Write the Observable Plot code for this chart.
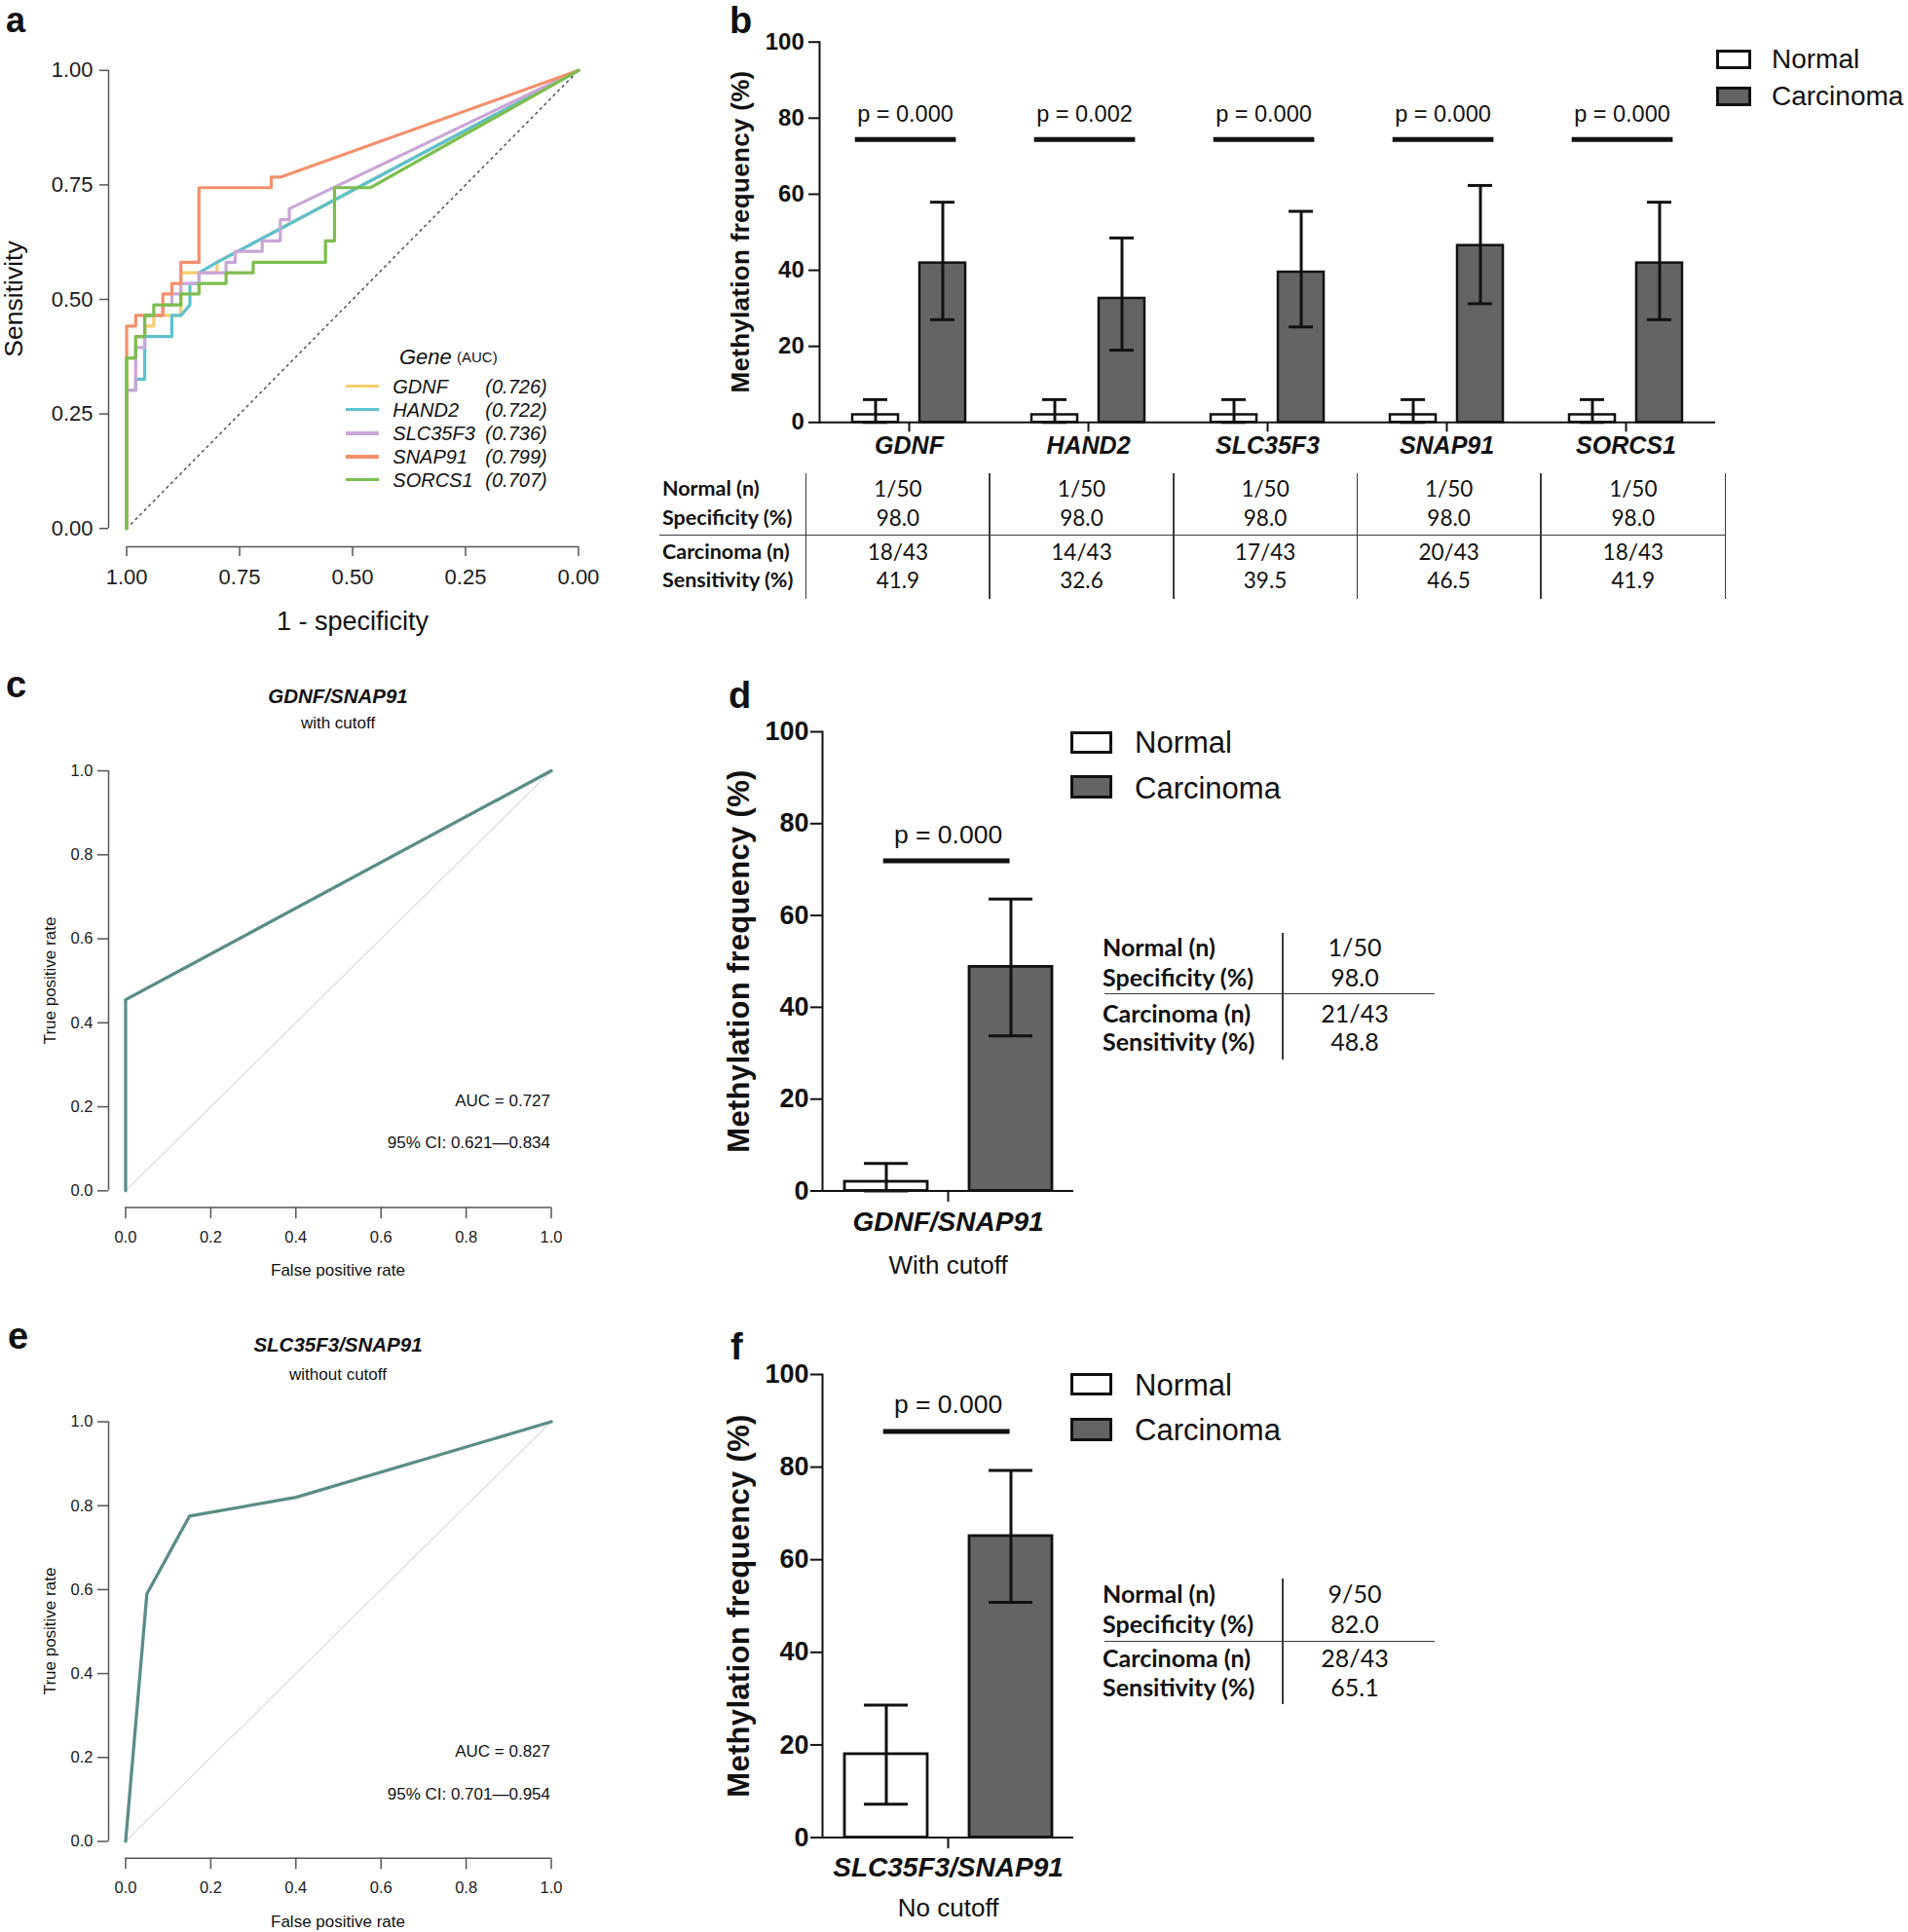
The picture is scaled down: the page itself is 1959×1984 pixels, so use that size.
<!DOCTYPE html>
<html><head><meta charset="utf-8">
<script src="https://cdn.jsdelivr.net/npm/d3@7"></script>
<script src="https://cdn.jsdelivr.net/npm/@observablehq/plot@0.6"></script>
<style>
body{margin:0;background:#fff;}
#root{position:relative;width:1959px;height:1984px;overflow:hidden;font-family:"Liberation Sans",Arial,sans-serif;color:#111;background:#fff;}
.abs{position:absolute;white-space:nowrap;line-height:1;}
.panel{position:absolute;}
</style></head><body><div id="root"></div>
<script>
// ---------------- DATA ----------------
// Panel a: single-gene ROC curves (specificity vs sensitivity)
const genes = ["GDNF","HAND2","SLC35F3","SNAP91","SORCS1"];
const geneColors = ["#F8CD6C","#5DC1CE","#C9A6D7","#F3906C","#7CBE4E"];
const geneAUC = ["(0.726)","(0.722)","(0.736)","(0.799)","(0.707)"];
const gdnfSpec = [1,1,0.98,0.98,0.96,0.96,0.94,0.94,0.88,0.88,0.80,0.80,0];
const gdnfSens = [0,0.372,0.372,0.419,0.419,0.442,0.442,0.465,0.465,0.558,0.558,0.581,1];
const hand2Spec = [1,1,0.98,0.98,0.96,0.96,0.90,0.90,0.88,0.86,0.86,0.84,0.84,0.80,0];
const hand2Sens = [0,0.302,0.302,0.326,0.326,0.419,0.419,0.465,0.465,0.488,0.535,0.535,0.558,0.581,1];
const slc35f3Spec = [1,1,0.98,0.98,0.96,0.96,0.92,0.92,0.90,0.90,0.88,0.88,0.84,0.84,0.78,0.78,0.76,0.76,0.70,0.70,0.66,0.66,0.64,0.64,0];
const slc35f3Sens = [0,0.302,0.302,0.395,0.395,0.465,0.465,0.488,0.488,0.512,0.512,0.535,0.535,0.558,0.558,0.581,0.581,0.605,0.605,0.628,0.628,0.674,0.674,0.698,1];
const snap91Spec = [1,1,0.98,0.98,0.92,0.92,0.90,0.90,0.88,0.88,0.84,0.84,0.68,0.68,0.66,0];
const snap91Sens = [0,0.442,0.442,0.465,0.465,0.512,0.512,0.535,0.535,0.581,0.581,0.744,0.744,0.767,0.767,1];
const sorcs1Spec = [1,1,0.98,0.98,0.96,0.96,0.94,0.94,0.88,0.88,0.84,0.84,0.78,0.78,0.72,0.72,0.56,0.56,0.54,0.54,0.46,0];
const sorcs1Sens = [0,0.372,0.372,0.419,0.419,0.465,0.465,0.488,0.488,0.512,0.512,0.535,0.535,0.558,0.558,0.581,0.581,0.628,0.628,0.744,0.744,1];
const chanceSpec = [1,0];
const chanceSens = [0,1];
const aTicks = [0,0.25,0.5,0.75,1];

// Panel b: methylation frequency
const groups = ["Normal","Carcinoma"];
const normalPct = [2.0,2.0,2.0,2.0,2.0];
const normalLo = [0,0,0,0,0];
const normalHi = [6.0,6.0,6.0,6.0,6.0];
const carcPct = [41.9,32.6,39.5,46.5,41.9];
const carcLo = [27.0,19.0,25.1,31.2,27.0];
const carcHi = [57.9,48.5,55.5,62.3,57.9];
const pLabels = ["p = 0.000","p = 0.002","p = 0.000","p = 0.000","p = 0.000"];
const barTicks = [0,20,40,60,80,100];
const tableRowLabels = ["Normal (n)","Specificity (%)","Carcinoma (n)","Sensitivity (%)"];
const tabNormalN = ["1/50","1/50","1/50","1/50","1/50"];
const tabSpec = ["98.0","98.0","98.0","98.0","98.0"];
const tabCarcN = ["18/43","14/43","17/43","20/43","18/43"];
const tabSens = ["41.9","32.6","39.5","46.5","41.9"];

// Panels c, e: combination ROC curves
const rocTitles = ["GDNF/SNAP91","SLC35F3/SNAP91"];
const rocSubtitles = ["with cutoff","without cutoff"];
const rocAUC = ["AUC = 0.727","AUC = 0.827"];
const rocCI = ["95% CI: 0.621\u20140.834","95% CI: 0.701\u20140.954"];
const rocCFpr = [0,0,1];
const rocCTpr = [0,0.455,1];
const rocEFpr = [0,0.05,0.15,0.40,1];
const rocETpr = [0,0.59,0.775,0.82,1];
const rateTicks = [0,0.2,0.4,0.6,0.8,1];
const diagFpr = [0,1];
const diagTpr = [0,1];

// Panels d, f: combination methylation frequency
const combos = ["GDNF/SNAP91","SLC35F3/SNAP91"];
const comboCutoff = ["With cutoff","No cutoff"];
const comboNormalPct = [2.0,18.0];
const comboNormalLo = [0,7.2];
const comboNormalHi = [6.0,28.6];
const comboCarcPct = [48.8,65.1];
const comboCarcLo = [33.8,50.8];
const comboCarcHi = [63.6,79.3];
const comboP = ["p = 0.000","p = 0.000"];
const comboNormalN = ["1/50","9/50"];
const comboSpec = ["98.0","82.0"];
const comboCarcN = ["21/43","28/43"];
const comboSens = ["48.8","65.1"];

// ---------------- HELPERS ----------------
const root = document.getElementById("root");
const SANS = "'Liberation Sans', Arial, Helvetica, sans-serif";
const LATO = "Lato, 'Open Sans', sans-serif";
function place(node, left, top){
  const w = document.createElement("div");
  w.className = "panel"; w.style.left = left+"px"; w.style.top = top+"px";
  w.appendChild(node); root.appendChild(w);
}
function txt(s, x, y, o = {}){
  const d = document.createElement("div");
  d.className = "abs"; d.textContent = s;
  d.style.left = x+"px"; d.style.top = y+"px";
  d.style.fontSize = (o.size||20)+"px";
  d.style.fontWeight = o.weight||"normal";
  d.style.fontStyle = o.style||"normal";
  d.style.fontFamily = o.family||SANS;
  if (o.lh) d.style.lineHeight = o.lh;
  if (o.spacing) d.style.letterSpacing = o.spacing;
  d.style.color = o.color||"#111";
  const ax = o.anchor==="start" ? "0" : o.anchor==="end" ? "-100%" : "-50%";
  d.style.transform = `translate(${ax},-50%)` + (o.rotate ? ` rotate(${o.rotate}deg)` : "");
  root.appendChild(d);
  return d;
}
function box(x, y, w, h, o = {}){
  const d = document.createElement("div");
  d.style.position = "absolute";
  d.style.left = x+"px"; d.style.top = y+"px";
  d.style.width = w+"px"; d.style.height = h+"px";
  d.style.boxSizing = "border-box";
  d.style.background = o.fill||"transparent";
  if (o.border) d.style.border = o.border;
  root.appendChild(d);
  return d;
}
const pts = (xs, ys, kx, ky) => xs.map((v,i)=>({[kx]:v,[ky]:ys[i]}));

// ---------------- PANEL a ----------------
const aSeries = [
  pts(gdnfSpec,gdnfSens,"spec","sens"),
  pts(hand2Spec,hand2Sens,"spec","sens"),
  pts(slc35f3Spec,slc35f3Sens,"spec","sens"),
  pts(snap91Spec,snap91Sens,"spec","sens"),
  pts(sorcs1Spec,sorcs1Sens,"spec","sens")
];
const aXdom = [1.04,-0.04], aYdom = [-0.04,1.04];
const plotA = Plot.plot({
  width:640, height:660, marginLeft:111, marginRight:28, marginTop:53, marginBottom:99,
  x:{domain:aXdom}, y:{domain:aYdom},
  style:{background:"transparent", fontFamily:SANS, color:"#1a1a1a"},
  marks:[
    Plot.line(pts(chanceSpec,chanceSens,"spec","sens"), {x:"spec", y:"sens", stroke:"#444", strokeWidth:1.4, strokeDasharray:"2 4.5"}),
    ...aSeries.map((s,i)=>Plot.line(s, {x:"spec", y:"sens", stroke:geneColors[i], strokeWidth:3.2})),
    Plot.ruleX([aXdom[0]], {y1:0, y2:1, stroke:"#555", strokeWidth:1.5}),
    Plot.ruleY([aYdom[0]], {x1:1, x2:0, stroke:"#555", strokeWidth:1.5}),
    Plot.axisY({ticks:aTicks, tickFormat:d3.format(".2f"), tickSize:9, tickPadding:7, fontSize:22, stroke:"#555", strokeWidth:1.5, label:null}),
    Plot.axisX({ticks:aTicks, tickFormat:d3.format(".2f"), tickSize:10, tickPadding:13, fontSize:22, stroke:"#555", strokeWidth:1.5, label:null})
  ]
});
place(plotA, 0, 0);

// ---------------- PANELS c, e ----------------
function rocPlot(fpr, tpr, mT, mB, height){
  const dom = [-0.04,1.04];
  return Plot.plot({
    width:640, height, marginLeft:111, marginRight:57, marginTop:mT, marginBottom:mB,
    x:{domain:dom}, y:{domain:dom},
    style:{background:"transparent", fontFamily:SANS, color:"#1a1a1a"},
    marks:[
      Plot.line(pts(diagFpr,diagTpr,"fpr","tpr"), {x:"fpr", y:"tpr", stroke:"#c9c9c9", strokeWidth:1}),
      Plot.line(pts(fpr,tpr,"fpr","tpr"), {x:"fpr", y:"tpr", stroke:"#5A8D85", strokeWidth:3.3}),
      Plot.ruleX([dom[0]], {y1:0, y2:1, stroke:"#555", strokeWidth:1.5}),
      Plot.ruleY([dom[0]], {x1:0, x2:1, stroke:"#555", strokeWidth:1.5}),
      Plot.axisY({ticks:rateTicks, tickFormat:d3.format(".1f"), tickSize:11, tickPadding:5, fontSize:16.5, stroke:"#555", strokeWidth:1.5, label:null}),
      Plot.axisX({ticks:rateTicks, tickFormat:d3.format(".1f"), tickSize:11.6, tickPadding:12.5, fontSize:16.5, stroke:"#555", strokeWidth:1.5, label:null})
    ]
  });
}
place(rocPlot(rocCFpr, rocCTpr, 93.8, 100.4, 660), 0, 680);
place(rocPlot(rocEFpr, rocETpr, 102.3, 76.3, 644), 0, 1340);

// ---------------- BAR PANELS ----------------
function barPlot(o){
  const rows = o.facets.flatMap((g,i)=>[
    {fac:g, group:"Normal", value:o.nV[i], lo:o.nLo[i], hi:o.nHi[i]},
    {fac:g, group:"Carcinoma", value:o.cV[i], lo:o.cLo[i], hi:o.cHi[i]}
  ]);
  const pr = o.facets.map((g,i)=>({fac:g, p:o.p[i]}));
  return Plot.plot({
    width:o.width, height:o.height, marginLeft:o.mL, marginRight:o.mR, marginTop:o.mT, marginBottom:o.mB,
    fx:{domain:o.facets, padding:0},
    x:{domain:groups, paddingInner:o.pIn, paddingOuter:o.pOut, axis:null},
    y:{domain:[0,100]},
    color:{domain:groups, range:["#ffffff","#646464"]},
    style:{background:"transparent", fontFamily:SANS, color:"#111"},
    marks:[
      Plot.barY(rows, {fx:"fac", x:"group", y:"value", fill:"group", stroke:"#111", strokeWidth:o.bs}),
      Plot.ruleX(rows, {fx:"fac", x:"group", y1:"lo", y2:"hi", stroke:"#111", strokeWidth:o.es}),
      Plot.tickY(rows, {fx:"fac", x:"group", y:"hi", inset:o.capInset, stroke:"#111", strokeWidth:o.es}),
      Plot.tickY(rows, {fx:"fac", x:"group", y:"lo", inset:o.capInset, stroke:"#111", strokeWidth:o.es}),
      Plot.ruleY(pr, {fx:"fac", y:()=>o.sigY, insetLeft:o.sigL, insetRight:o.sigR, stroke:"#111", strokeWidth:o.sigW}),
      Plot.text(pr, {fx:"fac", y:()=>o.pY, text:"p", fontSize:o.pFont, dx:o.pDx, lineAnchor:"middle", fill:"#111"}),
      Plot.ruleY([0], {stroke:"#111", strokeWidth:2}),
      Plot.frame({anchor:"left", fx:[o.facets[0]], stroke:"#111", strokeWidth:2}),
      Plot.axisY({ticks:barTicks, tickSize:o.yTS, tickPadding:o.yTP, fontSize:o.yFont, fontWeight:"bold", stroke:"#111", strokeWidth:2, label:null}),
      Plot.axisFx({anchor:"bottom", tickSize:o.fxTS, tickPadding:o.fxTP, fontSize:o.fxFont, fontWeight:"bold", fontStyle:"italic", stroke:"#111", strokeWidth:2, label:null})
    ]
  });
}
const plotB = barPlot({facets:genes, nV:normalPct, nLo:normalLo, nHi:normalHi, cV:carcPct, cLo:carcLo, cHi:carcHi, p:pLabels,
  width:1279, height:480, mL:159, mR:197, mT:42.7, mB:46.7, pIn:0.32, pOut:0.49, bs:2.5, es:3, capInset:11,
  sigY:74.4, sigL:36.7, sigR:43.6, sigW:5, pY:81, pFont:23.5, pDx:-4, yTS:11, yTP:4.7, yFont:24, fxTS:10, fxTP:4.4, fxFont:25});
place(plotB, 680, 0);
const plotD = barPlot({facets:[combos[0]], nV:[comboNormalPct[0]], nLo:[comboNormalLo[0]], nHi:[comboNormalHi[0]], cV:[comboCarcPct[0]], cLo:[comboCarcLo[0]], cHi:[comboCarcHi[0]], p:[comboP[0]],
  width:700, height:650, mL:144, mR:297.3, mT:61, mB:117.5, pIn:0.337, pOut:0.174, bs:2.8, es:3, capInset:20,
  sigY:71.9, sigL:62.7, sigR:65.4, sigW:5, pY:77.5, pFont:26.5, pDx:0, yTS:12, yTP:2, yFont:27, fxTS:11.6, fxTP:9.3, fxFont:28});
place(plotD, 700, 690);
const plotF = barPlot({facets:[combos[1]], nV:[comboNormalPct[1]], nLo:[comboNormalLo[1]], nHi:[comboNormalHi[1]], cV:[comboCarcPct[1]], cLo:[comboCarcLo[1]], cHi:[comboCarcHi[1]], p:[comboP[1]],
  width:700, height:634, mL:144, mR:297.3, mT:61, mB:97.5, pIn:0.337, pOut:0.174, bs:2.8, es:3, capInset:20,
  sigY:87.7, sigL:62.7, sigR:65.4, sigW:5, pY:93.4, pFont:26.5, pDx:0, yTS:12, yTP:2, yFont:27, fxTS:11.6, fxTP:8.9, fxFont:28});
place(plotF, 700, 1350);

// ---------------- TEXT / LEGENDS / TABLES ----------------
// panel letters
txt("a", 6, 21, {size:36, weight:"bold", anchor:"start", lh:"0.7"});
txt("b", 749, 21, {size:38, weight:"bold", anchor:"start", lh:"0.7"});
txt("c", 6, 703, {size:38, weight:"bold", anchor:"start", lh:"0.7"});
txt("d", 748, 714, {size:38, weight:"bold", anchor:"start", lh:"0.7"});
txt("e", 8, 1372, {size:38, weight:"bold", anchor:"start", lh:"0.7"});
txt("f", 750, 1383, {size:38, weight:"bold", anchor:"start", lh:"0.7"});

// panel a titles + legend
txt("Sensitivity", 14, 307, {size:26.5, rotate:-90});
txt("1 - specificity", 362, 638, {size:27});
txt("Gene", 410, 367, {size:22, style:"italic", anchor:"start"});
txt("(AUC)", 469, 366, {size:15, anchor:"start"});
const legY = [396.7, 420.7, 445, 469, 492.7];
genes.forEach((g,i)=>{
  box(355, legY[i]-1.7, 34.3, 3.4, {fill:geneColors[i]});
  txt(g, 403.3, legY[i], {size:20, style:"italic", anchor:"start"});
  txt(geneAUC[i], 498.3, legY[i], {size:20, style:"italic", anchor:"start"});
});

// panels c, e titles
const rocTop = [0, 668.5];
rocTitles.forEach((t,i)=>{
  const o = rocTop[i];
  txt(t, 347, 715 + o - (i ? 2.5 : 0), {size:20.5, weight:"bold", style:"italic"});
  txt(rocSubtitles[i], 347, 742 + o, {size:17});
  txt("True positive rate", 51, 1006.5 + o, {size:17, rotate:-90});
  txt("False positive rate", 347, 1304 + o, {size:17});
  txt(rocAUC[i], 565, 1129.7 + o, {size:17, anchor:"end"});
  txt(rocCI[i], 565, 1173.3 + o, {size:17, anchor:"end"});
});

// panel b labels
txt("Methylation frequency (%)", 760, 238, {size:26, weight:"bold", rotate:-90, spacing:"0.3px"});
function legend(x, y1, y2, bw, bh, tx, ty1, ty2, size, bw2){
  box(x, y1, bw, bh, {fill:"#fff", border:`${bw2}px solid #111`});
  box(x, y2, bw, bh, {fill:"#646464", border:`${bw2}px solid #111`});
  txt(groups[0], tx, ty1, {size, anchor:"start"});
  txt(groups[1], tx, ty2, {size, anchor:"start"});
}
legend(1762, 51, 89, 36, 20.4, 1819, 61.2, 98.7, 28, 3);

function table(labelX, rowsY, sepY, sepX1, sepX2, vlines, vTop, vBot, colCenters, cols, labSize, valSize){
  tableRowLabels.forEach((l,r)=>txt(l, labelX, rowsY[r], {size:labSize, weight:"bold", family:LATO, anchor:"start"}));
  box(sepX1, sepY-0.8, sepX2-sepX1, 1.6, {fill:"#3a3a3a"});
  vlines.forEach(x=>box(x-0.8, vTop, 1.6, vBot-vTop, {fill:"#3a3a3a"}));
  colCenters.forEach((cx,c)=>cols.forEach((col,r)=>txt(col[c], cx, rowsY[r], {size:valSize, family:LATO})));
}
const bVlines = [827.6,1016.2,1204.8,1393.3,1581.9,1771.7];
const bCenters = bVlines.slice(0,5).map((x,i)=>(x+bVlines[i+1])/2);
table(680, [502.3,531.7,566.7,596], 549.3, 677, 1772, bVlines, 486, 615, bCenters,
  [tabNormalN, tabSpec, tabCarcN, tabSens], 21.5, 22.5);

// panels d, f labels
const dfY = [987, 1648.7];
const dfSub = [1299, 1959];
dfY.forEach((y,i)=>{
  txt("Methylation frequency (%)", 758, y, {size:31, weight:"bold", rotate:-90, spacing:"0.3px"});
  txt(comboCutoff[i], 973.6, dfSub[i], {size:26});
});
legend(1099, 750.6, 796, 43, 23.5, 1165, 762, 808.6, 31, 3.5);
legend(1099, 1409.7, 1456, 43, 23.5, 1165, 1421.7, 1468, 31, 3.5);
table(1132, [972.3,1002.6,1039.9,1068.9], 1020.4, 1134, 1472.6, [1317], 957.8, 1087.6, [1391],
  [[comboNormalN[0]],[comboSpec[0]],[comboCarcN[0]],[comboSens[0]]], 25, 25);
table(1132, [1635.8,1666.5,1701.5,1732], 1685.6, 1134, 1472.6, [1317], 1620.7, 1750, [1391],
  [[comboNormalN[1]],[comboSpec[1]],[comboCarcN[1]],[comboSens[1]]], 25, 25);
</script></body></html>
